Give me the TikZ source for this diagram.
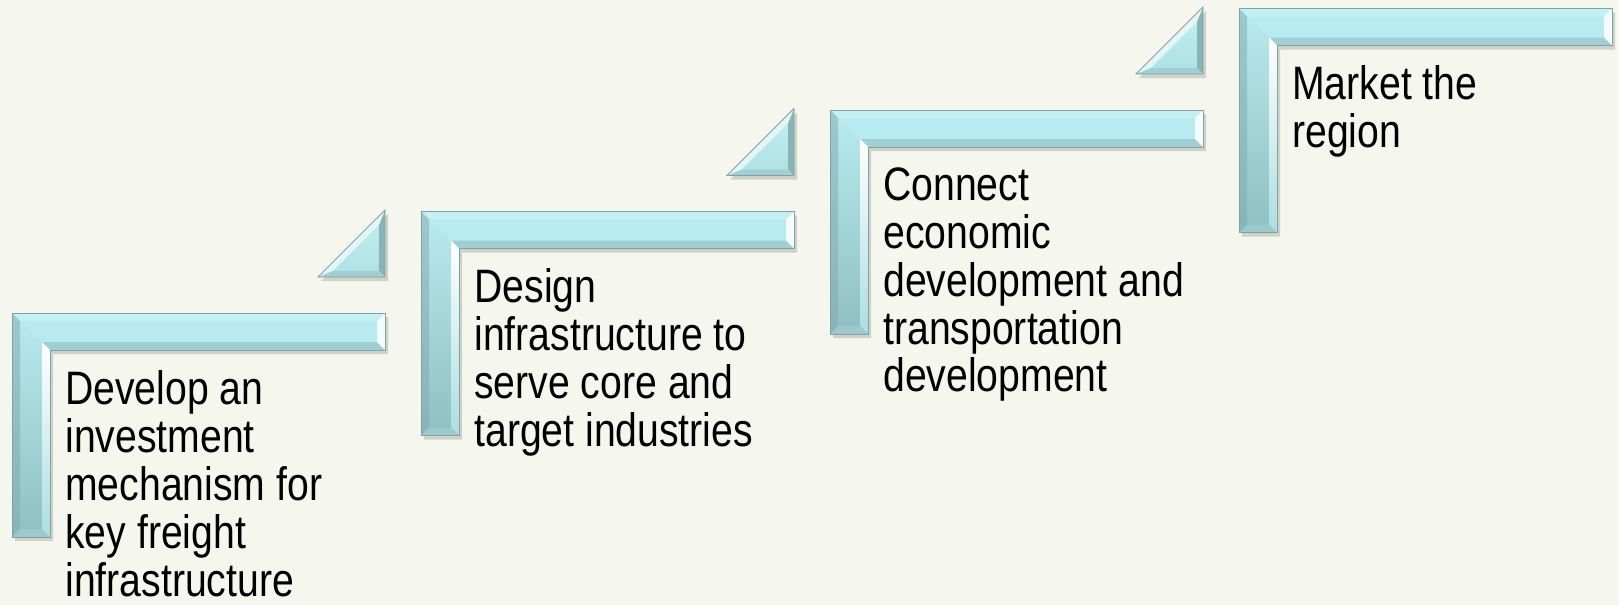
\documentclass[tikz,border=0pt]{standalone}
\usepackage{fontspec}
\setmainfont{Liberation Sans}[FakeStretch=0.835]
\definecolor{bgcol}{HTML}{F5F7EE}
\definecolor{barfill}{HTML}{B8EBEF}
\definecolor{bardark}{HTML}{8FBFC3}
\definecolor{barlight}{HTML}{C4F0F3}
\definecolor{barside}{HTML}{88B3B7}
\definecolor{barlow}{HTML}{9FCFD3}
\definecolor{baredge}{HTML}{7FA2A5}

\begin{document}
\begin{tikzpicture}[x=0.02cm, y=-0.02cm,
        steptext/.style={anchor=north west, inner sep=0pt, align=left, font=\fontsize{26.7pt}{27.3pt}\selectfont},
        stepbar/.pic={
            \fill[black, opacity=0.15] (3,4) -- (376,4) -- (376,41) -- (41,41) -- (41,228) -- (3,228) -- cycle;
            \fill[barfill] (0,0) -- (373,0) -- (373,37) -- (38,37) -- (38,224) -- (0,224) -- cycle;
            \shade[top color=barfill, bottom color=bardark] (0,0) -- (38,37) -- (38,224) -- (0,224) -- cycle;
            \fill[barlight] (0,0) -- (373,0) -- (365,8) -- (8,8) -- cycle;
            \shade[top color=barside!60!barfill, bottom color=barside] (0,0) -- (8,8) -- (8,216) -- (0,224) -- cycle;
            \fill[barlow] (30,29) -- (365,29) -- (373,37) -- (38,37) -- cycle;
            \shade[top color=white, bottom color=barfill!70!bardark] (30,29) -- (38,37) -- (38,224) -- (30,216) -- cycle;
            \fill[white!85!barfill] (373,0) -- (373,37) -- (365,29) -- (365,8) -- cycle;
            \fill[barlow!80!barside] (0,224) -- (38,224) -- (30,216) -- (8,216) -- cycle;
            \draw[baredge, line width=0.5pt] (0,0) -- (373,0) -- (373,37) -- (38,37) -- (38,224) -- (0,224) -- cycle;
        },
        steptri/.pic={
            \fill[black, opacity=0.15] (3,4) -- (-64,4) -- (3,-63) -- cycle;
            \shade[top color=barlight, bottom color=barfill!75!bardark] (0,0) -- (-67,0) -- (0,-67) -- cycle;
            \fill[barside] (0,0) -- (0,-67) -- (-6,-52.5) -- (-6,-6) -- cycle;
            \fill[barlow] (0,0) -- (-67,0) -- (-52.5,-6) -- (-6,-6) -- cycle;
            \fill[white!60!barfill] (-67,0) -- (0,-67) -- (-6,-52.5) -- (-52.5,-6) -- cycle;
            \draw[baredge, line width=0.5pt] (0,0) -- (-67,0) -- (0,-67) -- cycle;
        }]
    \fill[bgcol] (0,0) rectangle (1619,605);

    \pic at (12,313) {stepbar};
    \pic at (421,211.5) {stepbar};
    \pic at (830,110) {stepbar};
    \pic at (1239,8.5) {stepbar};

    \pic at (385,277) {steptri};
    \pic at (794,175.5) {steptri};
    \pic at (1203,74) {steptri};

    \node[steptext] (develop) at (65,370) {Develop an\\investment\\mechanism for\\key freight\\infrastructure};
    \node[steptext] (design) at (474,268.5) {Design\\infrastructure to\\serve core and\\target industries};
    \node[steptext] (connect) at (883,167) {Connect\\economic\\development and\\transportation\\development};
    \node[steptext] (market) at (1292,65.5) {Market the\\region};
\end{tikzpicture}
\end{document}
